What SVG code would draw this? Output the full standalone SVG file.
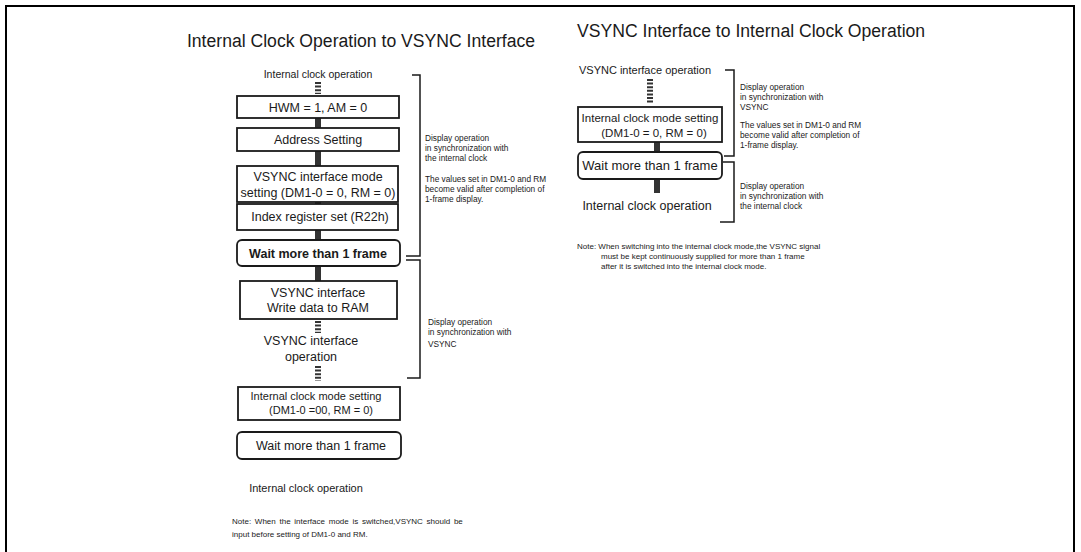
<svg xmlns="http://www.w3.org/2000/svg" width="1081" height="552" viewBox="0 0 1081 552">
<style>
text{font-family:"Liberation Sans",Arial,sans-serif;fill:#1a1a1a}
.t{font-size:17.6px}
.b{font-size:12.5px;text-anchor:middle}
.bb{font-size:12.5px;text-anchor:middle;font-weight:bold}
.m{font-size:11px;text-anchor:middle}
.s{font-size:8.3px}
.n{font-size:8px}
.box{fill:#fff;stroke:#1a1a1a;stroke-width:1.8}
.con{stroke:#333;stroke-width:6}
.dash{stroke:#333;stroke-width:6;stroke-dasharray:2 1.6}
.br{fill:none;stroke:#1a1a1a;stroke-width:1.5}
</style>
<rect x="0" y="0" width="1081" height="552" fill="#fff"/>
<path d="M6 552 V6 H1074 V552" fill="none" stroke="#000" stroke-width="2"/>

<text class="t" x="361" y="47" text-anchor="middle">Internal Clock Operation to VSYNC Interface</text>
<text class="t" x="577" y="37">VSYNC Interface to Internal Clock Operation</text>

<g id="connectors">
<line class="dash" x1="318" y1="82" x2="318" y2="94"/>
<line class="con" x1="318" y1="118" x2="318" y2="128"/>
<line class="con" x1="318" y1="151" x2="318" y2="166"/>
<line class="con" x1="318" y1="202" x2="318" y2="204"/>
<line class="con" x1="318" y1="230" x2="318" y2="240"/>
<line class="con" x1="318" y1="266" x2="318" y2="281"/>
<line class="dash" x1="318" y1="321" x2="318" y2="333"/>
<line class="dash" x1="318" y1="366" x2="318" y2="381"/>
<line class="dash" x1="650" y1="79" x2="650" y2="104"/>
<line class="con" x1="657" y1="142" x2="657" y2="152"/>
<line class="con" x1="657" y1="179" x2="657" y2="193"/>
<path class="br" d="M412 75 H420 V256 H406"/>
<path class="br" d="M406 260 H420 V378 H407"/>
<path class="br" d="M725 70 H734 V156 H724"/>
<path class="br" d="M723 162 H734 V222 H720"/>
</g>

<g id="l_start"><text class="m" x="318" y="78" style="font-size:10.5px">Internal clock operation</text></g>
<g id="l_hwm"><rect class="box" x="237" y="96" width="162" height="22"/><text class="b" x="318" y="112">HWM = 1, AM = 0</text></g>
<g id="l_addr"><rect class="box" x="237" y="128" width="162" height="23"/><text class="b" x="318" y="144">Address Setting</text></g>
<g id="l_vsmode"><rect class="box" x="237" y="166" width="161" height="36"/><text class="b" x="318" y="181">VSYNC interface mode</text><text class="b" x="318" y="197">setting (DM1-0 = 0, RM = 0)</text></g>
<g id="l_index"><rect class="box" x="237" y="204" width="161" height="26"/><text class="b" x="320" y="221">Index register set (R22h)</text></g>
<g id="l_wait1"><rect class="box" x="237" y="240" width="163" height="26" rx="5"/><text class="bb" x="318" y="258">Wait more than 1 frame</text></g>
<g id="l_write"><rect class="box" x="240" y="281" width="157" height="38"/><text class="b" x="318" y="297">VSYNC interface</text><text class="b" x="318" y="312">Write data to RAM</text></g>
<g id="l_vsop"><text class="b" x="311" y="345">VSYNC interface</text><text class="b" x="311" y="361">operation</text></g>
<g id="l_icmode"><rect class="box" x="238" y="387" width="162" height="33"/><text class="m" x="316" y="400">Internal clock mode setting</text><text class="m" x="321" y="414">(DM1-0 =00, RM = 0)</text></g>
<g id="l_wait2"><rect class="box" x="237" y="432" width="164" height="27" rx="5"/><text class="b" x="321" y="450">Wait more than 1 frame</text></g>
<g id="l_end"><text class="m" x="306" y="492">Internal clock operation</text></g>

<g id="l_note1"><text class="s" x="425" y="141">Display operation</text><text class="s" x="425" y="151">in synchronization with</text><text class="s" x="425" y="161">the internal clock</text><text class="s" x="425" y="182">The values  set in DM1-0 and RM</text><text class="s" x="425" y="192">become valid after completion of</text><text class="s" x="425" y="202">1-frame display.</text></g>
<g id="l_note2"><text class="s" x="428" y="325">Display operation</text><text class="s" x="428" y="335">in synchronization with</text><text class="s" x="428" y="347">VSYNC</text></g>
<g id="l_note"><text class="n" x="232" y="524" word-spacing="1.5">Note: When  the interface mode is switched,VSYNC should be</text><text class="n" x="232" y="537">input before setting of DM1-0 and RM.</text></g>

<g id="r_start"><text class="m" x="645" y="74">VSYNC interface operation</text></g>
<g id="r_icmode"><rect class="box" x="578" y="107" width="144" height="35"/><text class="m" x="650" y="122" style="font-size:11.5px">Internal clock mode setting</text><text class="m" x="654" y="137" style="font-size:11.5px">(DM1-0 = 0, RM = 0)</text></g>
<g id="r_wait"><rect class="box" x="578" y="152" width="144" height="27" rx="5"/><text class="b" x="650" y="170" style="font-size:13px">Wait more than 1 frame</text></g>
<g id="r_end"><text class="b" x="647" y="210">Internal clock operation</text></g>
<g id="r_note1"><text class="s" x="740" y="90">Display operation</text><text class="s" x="740" y="100">in synchronization with</text><text class="s" x="740" y="110">VSYNC</text><text class="s" x="740" y="128">The values  set in DM1-0 and RM</text><text class="s" x="740" y="138">become valid after completion of</text><text class="s" x="740" y="148">1-frame display.</text></g>
<g id="r_note2"><text class="s" x="740" y="189">Display operation</text><text class="s" x="740" y="199">in synchronization with</text><text class="s" x="740" y="209">the internal clock</text></g>
<g id="r_note"><text class="n" x="577" y="249">Note: When switching into the internal clock mode,the VSYNC signal</text><text class="n" x="601" y="259">must be kept continuously supplied  for more than 1 frame</text><text class="n" x="601" y="269">after  it is switched into the internal clock mode.</text></g>
</svg>
